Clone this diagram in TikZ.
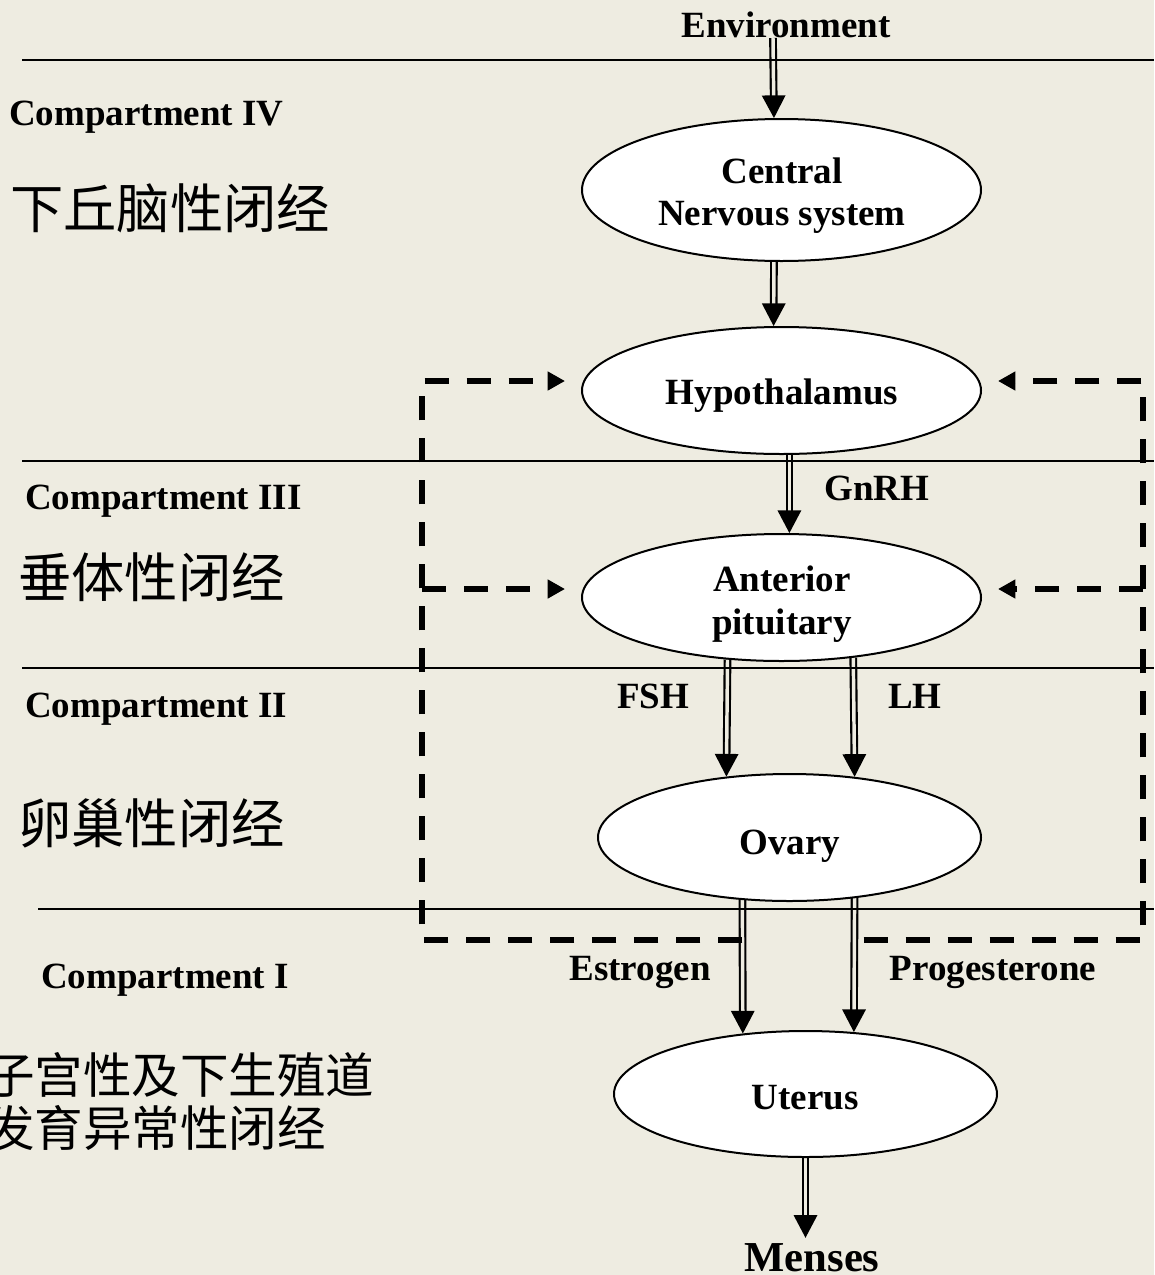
\documentclass[tikz,border=0pt]{standalone}
\usepackage{fontspec}
\setmainfont{Liberation Serif}
\newfontfamily\cjk{Noto Sans CJK SC}
\usetikzlibrary{shapes.geometric,arrows.meta,backgrounds}
\definecolor{bg}{HTML}{EEECE1}
\begin{document}
\begin{tikzpicture}[x=0.75pt,y=-0.75pt,
  lbl/.style={font=\fontsize{27.75}{31.5}\selectfont\bfseries, inner sep=0pt, anchor=base},
  cmp/.style={font=\fontsize{27.75}{31.5}\selectfont\bfseries, inner sep=0pt, anchor=base west},
  zh/.style={font=\cjk\fontsize{40}{47}\selectfont, inner sep=0pt, anchor=west},
  ell/.style={ellipse, draw, line width=1.5pt, fill=white, inner sep=0pt},
  dbl/.style={line width=1.6pt, double distance=2.6pt, double=bg, -{Triangle[width=17.5pt,length=17pt]}},
  fb/.style={line width=4.25pt, dash pattern=on 18pt off 13.5pt, line join=miter, -{Triangle[width=13.5pt,length=13pt]}},
  sep/.style={line width=1.5pt}]
\begin{scope}[on background layer]
\fill[bg] (0,0) rectangle (1154,1275);
\end{scope}
\useasboundingbox (0,0) rectangle (1154,1275);

% ellipses
\node[ell, minimum width=299.25pt, minimum height=106.5pt] (cns) at (781.5,190) {};
\node[ell, minimum width=299.25pt, minimum height=95.25pt] (hyp) at (781.5,390.5) {};
\node[ell, minimum width=299.25pt, minimum height=95.25pt] (pit) at (781.5,597.5) {};
\node[ell, minimum width=287.25pt, minimum height=95.25pt] (ova) at (789.5,837.5) {};
\node[ell, minimum width=287.25pt, minimum height=94.5pt] (ute) at (805.5,1094) {};

% texts in ellipses
\node[lbl] (tcns) at (782,183) {\begin{tabular}[t]{@{}c@{}}Central\\Nervous system\end{tabular}};
\node[lbl] (thyp) at (782,404) {Hypothalamus};
\node[lbl] (tpit) at (782,591) {\begin{tabular}[t]{@{}c@{}}Anterior\\[0.75pt]pituitary\end{tabular}};
\node[lbl] (tova) at (790,854) {Ovary};
\node[lbl] (tute) at (805,1109) {Uterus};

% top / bottom words
\node[lbl] (env) at (786,37) {Environment};
\node[font=\fontsize{32}{38}\selectfont\bfseries, anchor=base, inner xsep=0pt, inner ysep=3.75pt] (menses) at (812,1271) {Menses};

% hormone labels
\node[lbl] (gnrh) at (877,500) {GnRH};
\node[lbl] (fsh) at (653,708) {FSH};
\node[lbl] (lh) at (915,708) {LH};
\node[lbl] (estr) at (640,980) {Estrogen};
\node[lbl] (prog) at (993,980) {Progesterone};

% compartment labels
\node[cmp] (k4) at (9,125) {Compartment IV};
\node[cmp] (k3) at (25,509) {Compartment III};
\node[cmp] (k2) at (25,717) {Compartment II};
\node[cmp] (k1) at (41,988) {Compartment I};

% chinese labels
\node[zh] (c4) at (10,208) {下丘脑性闭经};
\node[zh] (c3) at (18,577) {垂体性闭经};
\node[zh] (c2) at (18,823) {卵巢性闭经};
\node[zh, font=\cjk\fontsize{36.4}{39.75}\selectfont, align=left] (c1) at (-14,1101.5) {子宫性及下生殖道\\发育异常性闭经};

% main double arrows (behind the ellipses)
\begin{scope}[on background layer]
\draw[dbl] ([xshift=-9.75pt,yshift=-0.75pt]env.base) -- (cns.96.74);
\draw[dbl] (cns.-96.74) -- (hyp.97.5);
\draw[dbl] (hyp.-83.36) -- (pit.83.36);
\draw[dbl] (pit.-131.84) -- (ova.136.21);
\draw[dbl] (pit.-40.11) -- (ova.43.79);
\draw[dbl] (ova.-127.54) -- (ute.136.68);
\draw[dbl] (ova.-43.79) -- (ute.52.55);
\draw[dbl] (ute.south) -- ([xshift=-4.875pt]menses.north);
\end{scope}

% compartment separators
\draw[sep] (22,60) -- (1154,60);
\draw[sep] (22,461) -- (1154,461);
\draw[sep] (22,668) -- (1154,668);
\draw[sep] (38,909) -- (1154,909);

% feedback loops
\coordinate (bl) at (422,940);
\coordinate (tl) at (422,381);
\coordinate (ml) at (422,589);
\coordinate (br) at (1143,940);
\coordinate (tr) at (1143,381);
\coordinate (mr) at (1143,589);
\coordinate (hl) at ([xshift=-12pt]hyp.west);
\coordinate (hr) at ([xshift=12pt]hyp.east);
\coordinate (pl) at ([xshift=-12pt]pit.west);
\coordinate (pr) at ([xshift=12pt]pit.east);
\draw[fb] (ova.-127.54 |- bl) -- (bl) -- (tl) -- (hl |- tl);
\draw[fb] (ml) -- (pl |- ml);
\draw[fb, dash phase=24.75pt] (ova.-43.79 |- br) -- (br) -- (tr) -- (hr |- tr);
\draw[fb] (mr) -- (pr |- mr);
\end{tikzpicture}
\end{document}
